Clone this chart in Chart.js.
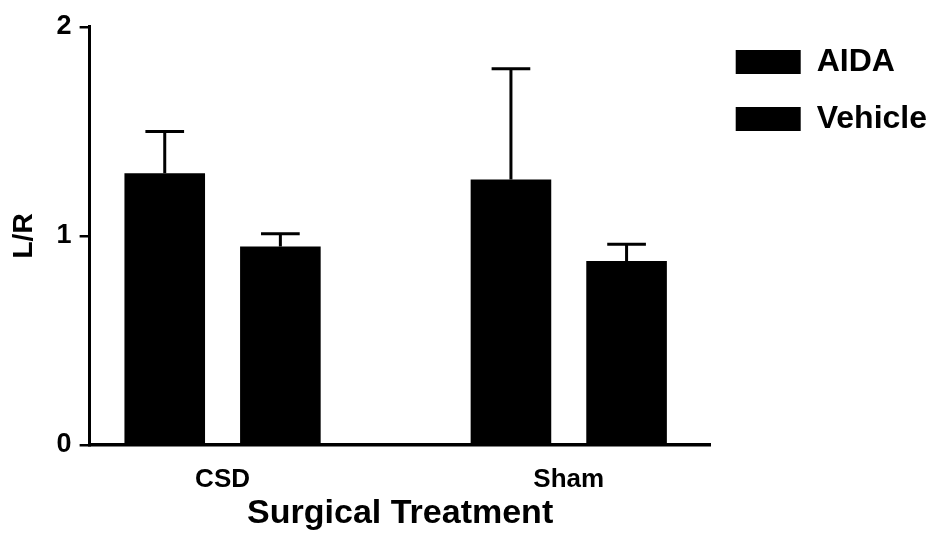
<!DOCTYPE html>
<html lang="en">
<head>
  <meta charset="UTF-8" />
  <title>L/R by Surgical Treatment</title>
  <script src="https://cdn.jsdelivr.net/npm/chart.js"></script>
  <style>
    html, body { margin: 0; padding: 0; background: #fff; }
    .wrap { width: 935px; height: 538px; }
  </style>
</head>
<body>
  <div class="wrap"><canvas id="lrChart"></canvas></div>

  <script>
    // Data
    const categories = ['CSD', 'Sham'];
    const seriesNames = ['AIDA', 'Vehicle'];
    const aidaValues = [1.30, 1.27];
    const vehicleValues = [0.95, 0.88];
    const aidaErrors = [0.20, 0.53];     // upper SEM only
    const vehicleErrors = [0.06, 0.08];
    const yTicks = [0, 1, 2];

    const FONT = "'Liberation Sans', Arial, sans-serif";

    // upper error bars with caps, drawn from the bar elements
    const errorBars = {
      id: 'errorBars',
      afterDatasetsDraw(chart) {
        const ctx = chart.ctx;
        const y = chart.scales.y;
        chart.data.datasets.forEach((ds, i) => {
          const meta = chart.getDatasetMeta(i);
          meta.data.forEach((bar, j) => {
            const top = y.getPixelForValue(ds.data[j].y + ds.errors[j]);
            const cap = bar.width * 0.48;
            ctx.save();
            ctx.strokeStyle = '#000';
            ctx.lineWidth = 3;
            ctx.beginPath();
            ctx.moveTo(bar.x, bar.y);
            ctx.lineTo(bar.x, top);
            ctx.moveTo(bar.x - cap / 2, top);
            ctx.lineTo(bar.x + cap / 2, top);
            ctx.stroke();
            ctx.restore();
          });
        });
      }
    };

    function series(values) {
      return categories.map((c, i) => ({ x: i, y: values[i] }));
    }

    new Chart(document.getElementById('lrChart'), {
      type: 'bar',
      data: {
        datasets: [
          { label: seriesNames[0], data: series(aidaValues), errors: aidaErrors, backgroundColor: '#000' },
          { label: seriesNames[1], data: series(vehicleValues), errors: vehicleErrors, backgroundColor: '#000' }
        ]
      },
      options: {
        responsive: true,
        maintainAspectRatio: false,
        animation: false,
        categoryPercentage: 0.668,
        barPercentage: 0.697,
        layout: { padding: { top: 21, left: 0, right: -2, bottom: 0 } },
        scales: {
          x: {
            type: 'linear',
            offset: false,
            min: -0.384,
            max: 1.41,
            afterBuildTicks: (s) => { s.ticks = categories.map((c, i) => ({ value: i })); },
            ticks: {
              callback: (v) => categories[v],
              color: '#000',
              padding: 14,
              font: { family: FONT, size: 26, weight: 'bold', lineHeight: 1 }
            },
            grid: { display: false },
            border: { display: true, color: '#000', width: 3.5 },
            title: {
              display: true,
              text: 'Surgical Treatment',
              color: '#000',
              padding: { top: -10, bottom: 7 },
              font: { family: FONT, size: 34, weight: 'bold', lineHeight: 1 }
            }
          },
          y: {
            min: 0,
            max: 2,
            afterBuildTicks: (s) => { s.ticks = yTicks.map(v => ({ value: v })); },
            ticks: {
              color: '#000',
              padding: 8,
              // taller line box keeps the plot top where the figure has it
              font: { family: FONT, size: 27, weight: 'bold', lineHeight: 1.4 }
            },
            grid: { drawOnChartArea: false, drawTicks: true, tickLength: 10, color: '#000', lineWidth: 2.5 },
            border: { display: true, color: '#000', width: 3 },
            title: {
              display: true,
              text: 'L/R',
              color: '#000',
              padding: { top: 7, bottom: 8 },
              font: { family: FONT, size: 28, weight: 'bold' }
            }
          }
        },
        plugins: {
          legend: {
            position: 'right',
            align: 'start',
            labels: {
              color: '#000',
              boxWidth: 65,
              boxHeight: 24,
              padding: 25,
              font: { family: FONT, size: 32, weight: 'bold' }
            }
          },
          tooltip: { enabled: false }
        }
      },
      plugins: [errorBars]
    });
  </script>
</body>
</html>
